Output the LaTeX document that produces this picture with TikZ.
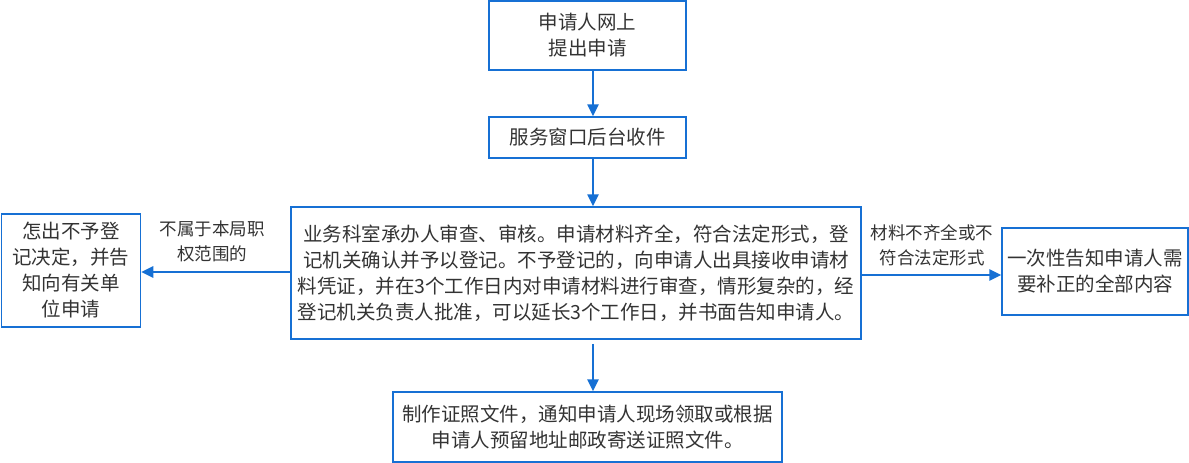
\documentclass[tikz,border=0pt]{standalone}
\usepackage{fontspec}
\setmainfont{Noto Sans CJK SC}
\usetikzlibrary{arrows.meta}
\definecolor{lineblue}{RGB}{22,112,212}
\definecolor{txt}{RGB}{51,51,51}
\begin{document}
\begin{tikzpicture}[x=1pt,y=-1pt,
 box/.style={draw=lineblue, line width=1.5pt, text=txt, align=center, inner sep=0pt, font=\fontsize{19.5pt}{26pt}\selectfont},
 flow/.style={draw=lineblue, line width=2.5pt, -{Triangle[length=12pt,width=11pt]}},
 lbl/.style={text=txt, align=center, inner sep=0pt, font=\fontsize{17.5pt}{25pt}\selectfont}]
\useasboundingbox (0,0) rectangle (1189,463);
\coordinate (ax) at (593,0);
\coordinate (ly) at (0,272);
\coordinate (ry) at (0,275);
\node[box, minimum width=197pt, minimum height=69pt] (b1) at (587.5,35.5) {申请人网上\\提出申请};
\node[box, minimum width=197pt, minimum height=41pt] (b2) at (587.5,137.5) {服务窗口后台收件};
\node[box, minimum width=570pt, minimum height=132pt] (b3) at (576,273) {业务科室承办人审查、审核。申请材料齐全，符合法定形式，登\\记机关确认并予以登记。不予登记的，向申请人出具接收申请材\\料凭证，并在3个工作日内对申请材料进行审查，情形复杂的，经\\登记机关负责人批准，可以延长3个工作日，并书面告知申请人。};
\node[box, minimum width=139pt, minimum height=113pt] (bl) at (71,270.5) {怎出不予登\\记决定，并告\\知向有关单\\位申请};
\node[box, minimum width=186pt, minimum height=87pt] (br) at (1095,271.5) {一次性告知申请人需\\要补正的全部内容};
\node[box, minimum width=389pt, minimum height=70pt] (b4) at (587.5,427) {制作证照文件，通知申请人现场领取或根据\\申请人预留地址邮政寄送证照文件。};
\node[lbl] (l1) at (212,241) {不属于本局职\\权范围的};
\node[lbl] (l2) at (932,245) {材料不齐全或不\\符合法定形式};
\draw[flow] (b1.south -| ax) -- (b2.north -| ax);
\draw[flow] (b2.south -| ax) -- (b3.north -| ax);
\draw[flow, shorten <=4pt] (b3.south -| ax) -- (b4.north -| ax);
\draw[flow] (b3.west |- ly) -- (bl.east |- ly);
\draw[flow] (b3.east |- ry) -- (br.west |- ry);
\end{tikzpicture}
\end{document}
